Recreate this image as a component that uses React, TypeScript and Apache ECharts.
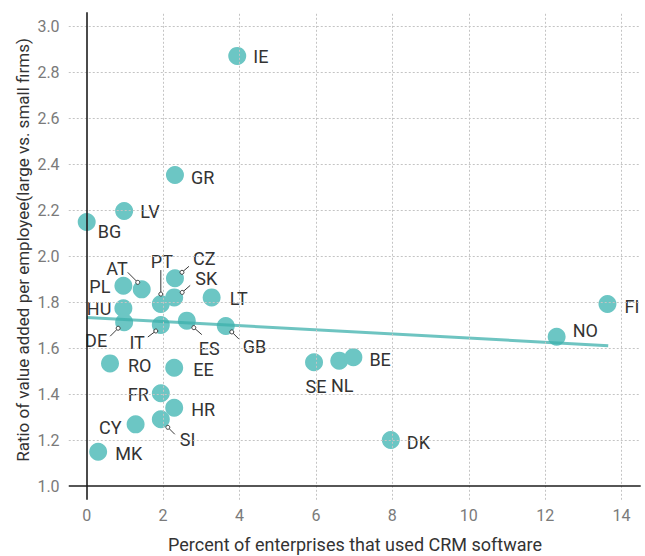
import React, { useEffect, useRef } from "react";
import * as echarts from "echarts";

// ---- Data ----
const COUNTRIES = ["IE", "GR", "LV", "BG", "AT", "PL", "HU", "DE", "PT", "CZ", "SK", "LT", "IT", "ES", "GB", "RO", "EE", "FR", "HR", "SI", "CY", "MK", "FI", "NO", "SE", "NL", "BE", "DK"];
const CRM_PCT = [3.94, 2.31, 0.98, 0.0, 1.44, 0.96, 0.96, 0.98, 1.94, 2.31, 2.29, 3.27, 1.94, 2.62, 3.64, 0.61, 2.29, 1.94, 2.29, 1.94, 1.28, 0.3, 13.63, 12.3, 5.95, 6.61, 6.98, 7.96];
const VA_RATIO = [2.87, 2.352, 2.196, 2.148, 1.855, 1.871, 1.773, 1.712, 1.791, 1.903, 1.82, 1.82, 1.7, 1.719, 1.696, 1.533, 1.514, 1.403, 1.34, 1.29, 1.268, 1.149, 1.791, 1.649, 1.538, 1.545, 1.56, 1.2];
const TREND_X = [0, 13.65];
const TREND_Y = [1.733, 1.61];
const X_TICKS = [0, 2, 4, 6, 8, 10, 12, 14];
const Y_TICKS = [1.0, 1.2, 1.4, 1.6, 1.8, 2.0, 2.2, 2.4, 2.6, 2.8, 3.0];
const X_TITLE = "Percent of enterprises that used CRM software";
const Y_TITLE = "Ratio of value added per employee(large vs. small firms)";

// ---- Styling / layout ----
const FONT = "Roboto, 'Liberation Sans Narrow', sans-serif";
const POINT_COLOR = "#6CC6C4";
const TREND_COLOR = "#3DB0AC";
const GRID_COLOR = "#c4c4c4";
const AXIS_COLOR = "#1e1e1e";
const TEXT_COLOR = "#333333";
const TICK_COLOR = "#7a7a7a";
// extents of drawn axis/grid lines (data units)
const X_LO = -0.47;
const X_HI = 14.5;
const Y_LO = 0.94;
const Y_HI = 3.06;

type Lay = { dx: number; dy: number; align: "left" | "right" | "center"; leader?: number[] };
const LABEL_LAYOUT: Record<string, Lay> = {
  IE: { dx: 16, dy: 1, align: "left" },
  GR: { dx: 16, dy: 2, align: "left" },
  LV: { dx: 16, dy: 1, align: "left" },
  BG: { dx: 11, dy: 10, align: "left" },
  AT: { dx: -14, dy: -21, align: "right", leader: [-4, -7, -14, -17] },
  PL: { dx: -13, dy: 1, align: "right" },
  HU: { dx: -12, dy: 0, align: "right" },
  DE: { dx: -17, dy: 18, align: "right", leader: [-6, 6, -14, 14] },
  PT: { dx: 1, dy: -43, align: "center", leader: [0, -10, 0, -34] },
  CZ: { dx: 18, dy: -20, align: "left", leader: [7, -6, 14, -12] },
  SK: { dx: 21, dy: -19, align: "left", leader: [8, -5, 16, -12] },
  LT: { dx: 18, dy: 1, align: "left" },
  IT: { dx: -16, dy: 17, align: "right", leader: [-5, 6, -13, 12] },
  ES: { dx: 12, dy: 28, align: "left", leader: [7, 7, 15, 14] },
  GB: { dx: 17, dy: 21, align: "left", leader: [6, 6, 13, 13] },
  RO: { dx: 18, dy: 2, align: "left" },
  EE: { dx: 19, dy: 2, align: "left" },
  FR: { dx: -12, dy: 1, align: "right" },
  HR: { dx: 17, dy: 2, align: "left" },
  SI: { dx: 19, dy: 20, align: "left", leader: [7, 8, 14, 15] },
  CY: { dx: -14, dy: 3, align: "right" },
  MK: { dx: 17, dy: 2, align: "left" },
  FI: { dx: 17, dy: 2, align: "left" },
  NO: { dx: 16, dy: -6, align: "left" },
  SE: { dx: 2, dy: 24, align: "center" },
  NL: { dx: 3, dy: 25, align: "center" },
  BE: { dx: 16, dy: 2, align: "left" },
  DK: { dx: 16, dy: 2, align: "left" },
};

const isTick = (ticks: number[], v: number) => ticks.some((t) => Math.abs(t - v) < 1e-6);

function buildOption() {
  const points = CRM_PCT.map((x, i) => [x, VA_RATIO[i]]);
  const trend = TREND_X.map((x, i) => [x, TREND_Y[i]]);
  const gridStyle = { color: GRID_COLOR, width: 1, type: [2, 2] as any };
  const axisStyle = { color: AXIS_COLOR, width: 1.6, type: "solid" };
  const lines: any[] = [];
  X_TICKS.filter((t) => t !== 0).forEach((t) => {
    lines.push([{ coord: [t, Y_LO], lineStyle: gridStyle }, { coord: [t, Y_HI] }]);
  });
  Y_TICKS.filter((t) => t !== 1.0).forEach((t) => {
    lines.push([{ coord: [X_LO, t], lineStyle: gridStyle }, { coord: [X_HI, t] }]);
  });
  lines.push([{ coord: [X_LO, Y_TICKS[0]], lineStyle: axisStyle }, { coord: [X_HI, Y_TICKS[0]] }]);
  lines.push([{ coord: [X_TICKS[0], Y_LO], lineStyle: axisStyle }, { coord: [X_TICKS[0], Y_HI] }]);

  const titleStyle = {
    fill: TEXT_COLOR,
    fontFamily: FONT,
    align: "center",
    verticalAlign: "middle",
    textAlign: "center",
    textVerticalAlign: "middle",
  };

  return {
    animation: false,
    backgroundColor: "#ffffff",
    grid: { left: 67.6, right: 4.3, top: 12.2, bottom: 56.2, containLabel: false, outerBoundsMode: "none" },
    xAxis: {
      type: "value",
      min: -0.5,
      max: 14.5,
      interval: 0.5,
      axisLine: { show: false },
      axisTick: { show: false },
      splitLine: { show: false },
      axisLabel: {
        margin: 8,
        color: TICK_COLOR,
        fontSize: 16,
        fontFamily: FONT,
        formatter: (v: number) => (isTick(X_TICKS, v) ? String(Math.round(v)) : ""),
      },
    },
    yAxis: {
      type: "value",
      min: 0.94,
      max: 3.06,
      interval: 0.02,
      axisLine: { show: false },
      axisTick: { show: false },
      splitLine: { show: false },
      axisLabel: {
        margin: 8,
        color: TICK_COLOR,
        fontSize: 16,
        fontFamily: FONT,
        formatter: (v: number) => (isTick(Y_TICKS, v) ? v.toFixed(1) : ""),
      },
    },
    graphic: [
      {
        type: "text",
        x: 23,
        y: 250,
        rotation: Math.PI / 2,
        style: { ...titleStyle, text: Y_TITLE, fontSize: 17 },
      },
      {
        type: "text",
        x: 355,
        y: 544,
        style: { ...titleStyle, text: X_TITLE, fontSize: 18 },
      },
    ],
    series: [
      {
        type: "line",
        data: [],
        silent: true,
        z: 1,
        markLine: {
          silent: true,
          symbol: ["none", "none"],
          label: { show: false },
          emphasis: { disabled: true },
          data: lines,
        },
      },
      {
        type: "scatter",
        data: points,
        symbolSize: 18,
        itemStyle: { color: POINT_COLOR, opacity: 1 },
        emphasis: { disabled: true },
        silent: true,
        z: 2,
      },
      {
        type: "line",
        data: trend,
        showSymbol: false,
        symbol: "none",
        silent: true,
        lineStyle: { color: TREND_COLOR, width: 3, opacity: 0.75 },
        z: 3,
      },
      {
        type: "custom",
        data: points,
        encode: { x: 0, y: 1 },
        silent: true,
        clip: false,
        z: 4,
        renderItem: (params: any, api: any) => {
          const name = COUNTRIES[params.dataIndex];
          const lay = LABEL_LAYOUT[name];
          const p = api.coord([api.value(0), api.value(1)]);
          const children: any[] = [
            {
              type: "text",
              x: p[0] + lay.dx,
              y: p[1] + lay.dy,
              style: {
                text: name,
                fill: TEXT_COLOR,
                fontSize: 18,
                fontFamily: FONT,
                align: lay.align,
                verticalAlign: "middle",
                textAlign: lay.align,
                textVerticalAlign: "middle",
              },
            },
          ];
          if (lay.leader) {
            const [x1, y1, x2, y2] = lay.leader;
            children.push({
              type: "line",
              shape: { x1: p[0] + x1, y1: p[1] + y1, x2: p[0] + x2, y2: p[1] + y2 },
              style: { stroke: "#3a3a3a", lineWidth: 1 },
            });
            children.push({
              type: "circle",
              shape: { cx: p[0] + x1, cy: p[1] + y1, r: 2 },
              style: { fill: "#ffffff", stroke: "#3a3a3a", lineWidth: 1 },
            });
          }
          return { type: "group", children };
        },
      },
    ],
  };
}

export default function App() {
  const ref = useRef<HTMLDivElement>(null);
  useEffect(() => {
    const chart = echarts.init(ref.current as HTMLDivElement, null, { renderer: "svg" });
    chart.setOption(buildOption() as any);
    return () => chart.dispose();
  }, []);
  return (
    <div
      ref={ref}
      style={{ position: "absolute", left: 0, top: 0, width: 645, height: 556 }}
    />
  );
}
